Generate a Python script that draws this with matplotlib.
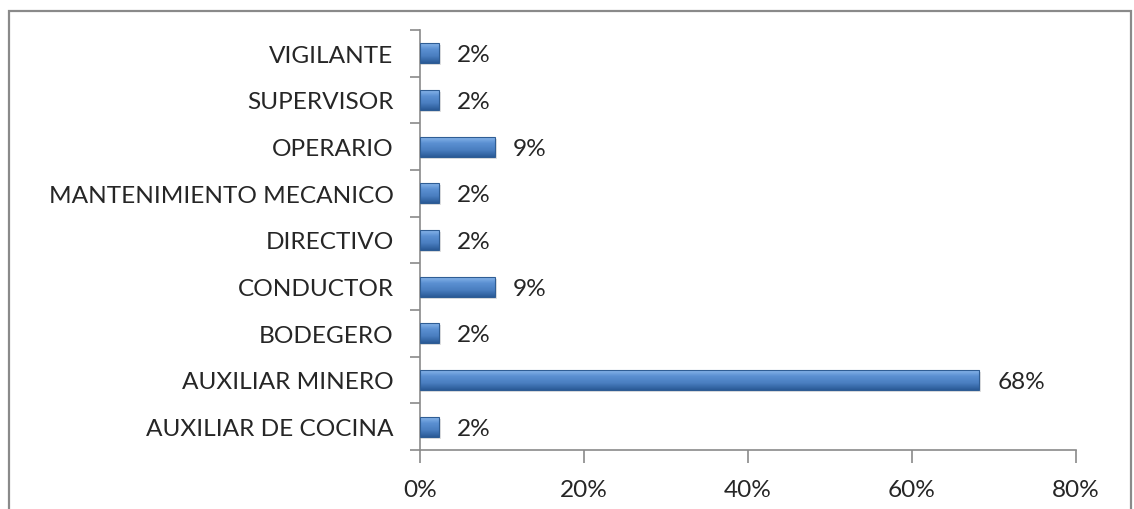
import matplotlib
matplotlib.use("Agg")
import matplotlib.pyplot as plt
import numpy as np
from matplotlib.patches import Rectangle
from matplotlib.colors import LinearSegmentedColormap

# orden de abajo hacia arriba, como en el grafico de Excel
CARGOS = ["AUXILIAR DE COCINA", "AUXILIAR MINERO", "BODEGERO", "CONDUCTOR",
          "DIRECTIVO", "MANTENIMIENTO MECANICO", "OPERARIO", "SUPERVISOR",
          "VIGILANTE"]
PORCENTAJES = [2.3, 68.2, 2.3, 9.1, 2.3, 2.3, 9.1, 2.3, 2.3]
XTICKS = [0, 20, 40, 60, 80]

TXT = "#262626"
GRIS = "#8a8a8a"
FS = 17.6
plt.rcParams["font.family"] = ["Lato", "DejaVu Sans"]

fig = plt.figure(figsize=(11.34, 5.10), dpi=100)
ax = fig.add_axes([420 / 1134, 1 - 451 / 510, 656 / 1134, 420 / 510])

# marco exterior del grafico
fig.patches.append(Rectangle((9 / 1134, -0.2), 1122 / 1134, 1.2 - 12 / 510,
                             transform=fig.transFigure, fill=False,
                             edgecolor=GRIS, linewidth=1.6))

y = np.arange(len(CARGOS))
bars = ax.barh(y, PORCENTAJES, height=0.43, color="none", edgecolor="#2f5d94",
               linewidth=0.8, zorder=3)

grad = LinearSegmentedColormap.from_list(
    "barra", ["#2a5a96", "#4a7ec0", "#5b90d2", "#8fbbee"])
g = np.linspace(0, 1, 64).reshape(-1, 1)
for b in bars:
    x0, y0, w, h = b.get_x(), b.get_y(), b.get_width(), b.get_height()
    # sombra ligera
    ax.add_patch(Rectangle((x0, y0 - 0.04), w + 0.25, h, facecolor="#000000",
                           alpha=0.12, linewidth=0, zorder=1))
    im = ax.imshow(g, cmap=grad, aspect="auto", origin="lower",
                   extent=(x0, x0 + w, y0, y0 + h), zorder=2)
    im.set_clip_path(b)

for yi, v in zip(y, PORCENTAJES):
    ax.annotate(f"{v:.0f}%", (v, yi), xytext=(13, -1), textcoords="offset points",
                ha="left", va="center", fontsize=FS, color=TXT)

ax.set_xlim(0, 80)
ax.set_ylim(-0.5, len(CARGOS) - 0.5)
ax.set_xticks(XTICKS)
ax.set_xticklabels([f"{t}%" for t in XTICKS])
ax.set_yticks(y)
ax.set_yticklabels(CARGOS)
ax.set_yticks(np.arange(-0.5, len(CARGOS)), minor=True)

ax.tick_params(axis="y", which="major", length=0, pad=19, labelsize=FS,
               labelcolor=TXT)
ax.tick_params(axis="y", which="minor", length=7, direction="out", color=GRIS,
               width=1.2)
ax.tick_params(axis="x", which="major", length=9, direction="out", color=GRIS,
               width=1.2, pad=12, labelsize=FS, labelcolor=TXT)

for s in ["top", "right"]:
    ax.spines[s].set_visible(False)
for s in ["left", "bottom"]:
    ax.spines[s].set_color(GRIS)
    ax.spines[s].set_linewidth(1.2)

fig.savefig("out.png", dpi=100, facecolor="white")
